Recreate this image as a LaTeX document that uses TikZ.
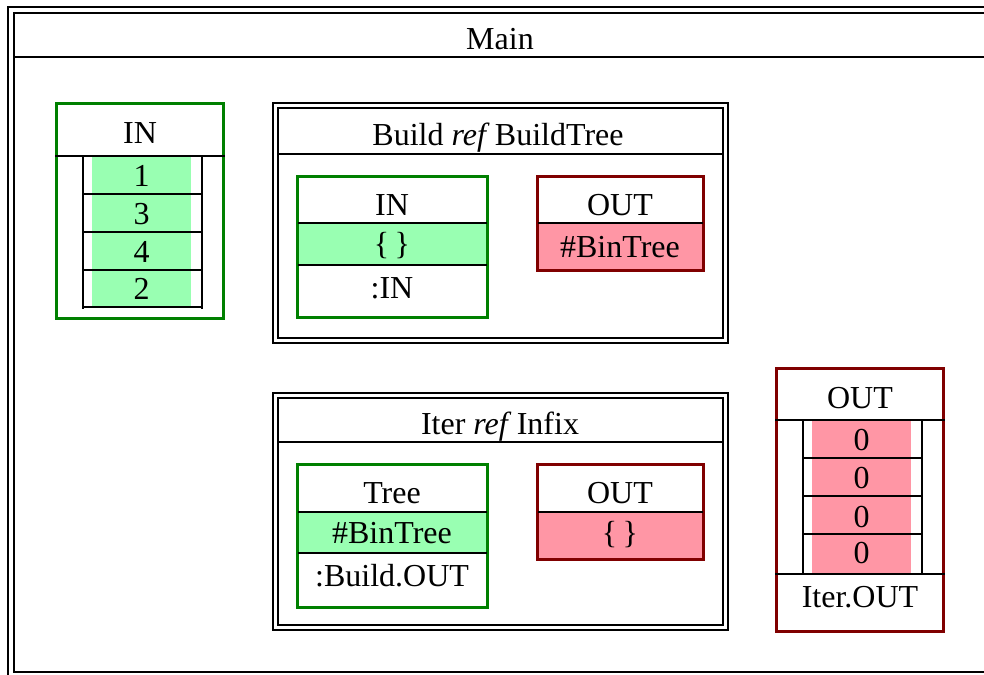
\documentclass[tikz,border=0pt]{standalone}
\usepackage{fontspec}
\setmainfont{Liberation Serif}
\definecolor{ingreen}{RGB}{0,128,0}
\definecolor{outred}{RGB}{128,0,0}
\definecolor{infill}{RGB}{153,255,178}
\definecolor{outfill}{RGB}{255,150,165}
\tikzset{
  inport/.style={draw=ingreen, line width=3pt},
  outport/.style={draw=outred, line width=3pt},
  rule/.style={draw=black, line width=2pt},
  frame/.style={draw=black, line width=2pt},
  lbl/.style={font=\fontsize{32}{38}\selectfont, inner sep=0pt, anchor=base},
}
\begin{document}
\begin{tikzpicture}[x=1pt,y=-1pt]
\useasboundingbox (0,0) rectangle (984,674);
\clip (0,0) rectangle (984,674);
\fill[white] (0,0) rectangle (984,674);

% ---- Main frame (double border) ----
\draw[frame] (7.5,7.5) rectangle (995,684);
\draw[frame] (13.5,13.5) rectangle (988,672);
\draw[rule] (13.5,57.5) -- (988,57.5);
\node[lbl] (main) at (500,50) {Main};

% ---- Input list ----
\fill[infill] (92,155.5) rectangle (191,307);
\draw[inport] (56.5,103.5) rectangle (223,318.5);
\draw[rule] (55,155.5) -- (225,155.5);
\draw[rule] (82.5,155.5) -- (82.5,309);
\draw[rule] (201.5,155.5) -- (201.5,309);
\foreach \yy in {194,232,270,307} \draw[rule] (82.5,\yy) -- (201.5,\yy);
\node[lbl] (inTitle) at (140,143) {IN};
\node[lbl] (in1) at (141.5,186) {1};
\node[lbl] (in2) at (141.5,224) {3};
\node[lbl] (in3) at (141.5,262) {4};
\node[lbl] (in4) at (141.5,299) {2};

% ---- Build ref BuildTree ----
\draw[frame] (272.5,103.5) rectangle (727.5,342.5);
\draw[frame] (277.5,108.5) rectangle (722.5,337.5);
\draw[rule] (277.5,154) -- (722.5,154);
\node[lbl] (buildTitle) at (498,145) {Build \textit{ref}\,BuildTree};

\fill[infill] (297,223) rectangle (487,265);
\draw[inport] (297.5,176.5) rectangle (487,317.5);
\draw[rule] (298,223) -- (486.5,223);
\draw[rule] (298,265) -- (486.5,265);
\node[lbl] (bInName) at (392,215) {IN};
\node[lbl] (bInVal) at (392,254.5) {\{\,\}};
\node[lbl] (bInSrc) at (392,298) {:IN};

\fill[outfill] (537,223) rectangle (703,270);
\draw[outport] (537.5,176.5) rectangle (703.5,270.5);
\draw[rule] (538,223) -- (703,223);
\node[lbl] (bOutName) at (620,215) {OUT};
\node[lbl] (bOutVal) at (620,257) {\#BinTree};

% ---- Iter ref Infix ----
\draw[frame] (272.5,392.5) rectangle (727.5,629.5);
\draw[frame] (277.5,397.5) rectangle (722.5,624.5);
\draw[rule] (277.5,442) -- (722.5,442);
\node[lbl] (iterTitle) at (500,434) {Iter \textit{ref}\,Infix};

\fill[infill] (297,512) rectangle (487,553);
\draw[inport] (297.5,464.5) rectangle (487,607.5);
\draw[rule] (298,512) -- (486.5,512);
\draw[rule] (298,553) -- (486.5,553);
\node[lbl] (iTreeName) at (392,503) {Tree};
\node[lbl] (iTreeVal) at (392,543) {\#BinTree};
\node[lbl] (iTreeSrc) at (392,586) {:Build.OUT};

\fill[outfill] (537,512) rectangle (703,559);
\draw[outport] (537.5,464.5) rectangle (703.5,559.5);
\draw[rule] (538,512) -- (703,512);
\node[lbl] (iOutName) at (620,503) {OUT};
\node[lbl] (iOutVal) at (620,543) {\{\,\}};

% ---- Output list ----
\fill[outfill] (812,419.5) rectangle (911,573);
\draw[outport] (776.5,368.5) rectangle (943,631);
\draw[rule] (775,419.5) -- (945,419.5);
\draw[rule] (802.5,419.5) -- (802.5,573);
\draw[rule] (921.5,419.5) -- (921.5,573);
\foreach \yy in {458,496,534} \draw[rule] (802.5,\yy) -- (921.5,\yy);
\draw[rule] (775,573.5) -- (945,573.5);
\node[lbl] (outTitle) at (860,408) {OUT};
\node[lbl] (out1) at (861.5,450) {0};
\node[lbl] (out2) at (861.5,488) {0};
\node[lbl] (out3) at (861.5,527) {0};
\node[lbl] (out4) at (861.5,563) {0};
\node[lbl] (outSrc) at (860,607) {Iter.OUT};
\end{tikzpicture}
\end{document}
